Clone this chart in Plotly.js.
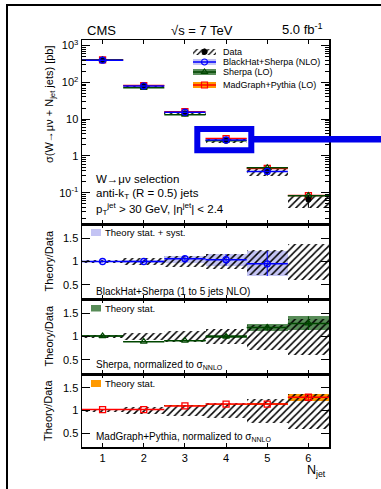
<!DOCTYPE html>
<html>
<head>
<meta charset="utf-8">
<script src="https://cdn.plot.ly/plotly-3.0.1.min.js"></script>
<style>
html,body{margin:0;padding:0;background:#fff;}
#wrap{position:relative;width:381px;height:489px;overflow:hidden;}
#frame{position:absolute;left:6px;top:4px;width:400px;height:500px;border-left:2px solid #000;border-top:2px solid #000;pointer-events:none;}
</style>
</head>
<body>
<div id="wrap"><div id="chart" style="width:381px;height:489px;"></div><div id="frame"></div></div>
<script>
// ---------- data ----------
const nJet = [1, 2, 3, 4, 5, 6];
const xTickLabels = ['1', '2', '3', '4', '5', '6'];
const dataXsec = [400, 80, 14.5, 2.6, 0.40, 0.065];          // pb
const dataErrUp = [0.035, 0.08, 0.12, 0.17, 0.25, 0.37];     // relative
const dataErrDn = [0.035, 0.08, 0.12, 0.16, 0.28, 0.40];     // relative
// Theory / Data
const bhRatio = [1.00, 1.00, 1.06, 1.04, 0.95, null];
const bhLo    = [0.98, 0.97, 0.96, 0.91, 0.69, null];
const bhHi    = [1.02, 1.03, 1.12, 1.16, 1.22, null];
const shRatio = [1.01, 0.89, 0.91, 1.00, 1.19, 1.28];
const shLo    = [0.99, 0.88, 0.90, 0.96, 1.12, 1.14];
const shHi    = [1.03, 0.90, 0.92, 1.03, 1.26, 1.43];
const mgRatio = [1.02, 1.02, 1.10, 1.14, 1.14, 1.29];
const mgLo    = [1.01, 1.01, 1.09, 1.13, 1.12, 1.20];
const mgHi    = [1.03, 1.03, 1.11, 1.15, 1.16, 1.36];
const mainTickVals = [0.1, 1, 10, 100, 1000];
const mainTickText = ['10<sup>-1</sup>', '1', '10', '10<sup>2</sup>', '10<sup>3</sup>'];
const ratioTickVals = [0.5, 1, 1.5];
const ratioTickText = ['0.5', '1', '1.5'];
const legendNames = ['Data', 'BlackHat+Sherpa (NLO)', 'Sherpa (LO)', 'MadGraph+Pythia (LO)'];

// ---------- styling ----------
const FONT = 'Liberation Sans, Arial, Helvetica, sans-serif';
const cBand = 'rgb(196,196,244)', cBlue = 'rgb(0,0,255)';
const cGreenBand = 'rgb(88,140,88)', cGreen = 'rgb(0,70,0)';
const cOrange = 'rgb(255,153,0)', cRed = 'rgb(255,0,0)';
const hatch = {shape: '/', fgcolor: 'black', bgcolor: 'rgba(0,0,0,0)', size: 5, solidity: 0.3, fillmode: 'replace'};

// pixel -> paper helpers (plot area 82..329 x, 40..447 y)
const L = 82, R = 329, T = 40, B = 447;
const px = v => (v - L) / (R - L);
const py = v => (B - v) / (B - T);

const mul = (a, b) => a.map((v, i) => (v == null || b[i] == null) ? null : v * b[i]);
const diff = (a, b) => a.map((v, i) => (v == null || b[i] == null) ? null : v - b[i]);

const traces = [];
function band(xa, ya, lo, hi, color, pattern) {
  traces.push({type: 'bar', x: nJet, base: lo, y: diff(hi, lo), width: 1, xaxis: xa, yaxis: ya,
    marker: pattern ? {color: 'rgba(0,0,0,0)', pattern: pattern, line: {width: 0}} : {color: color, line: {width: 0}},
    hoverinfo: 'skip'});
}
function theoryLine(xa, ya, c, lo, hi, color, symbol, size, withErr) {
  const t = {type: 'scatter', mode: 'markers', x: nJet, y: c, xaxis: xa, yaxis: ya,
    marker: {symbol: symbol, size: size, color: color, line: {color: color, width: 1.3}},
    error_x: {type: 'constant', value: 0.5, width: 0, thickness: 1.5, color: color}};
  if (withErr) t.error_y = {type: 'data', array: diff(hi, c), arrayminus: diff(c, lo), width: 0, thickness: 1, color: color};
  traces.push(t);
}

// main panel
const dLo = dataXsec.map((v, i) => v * (1 - dataErrDn[i]));
const dHi = dataXsec.map((v, i) => v * (1 + dataErrUp[i]));
band('x', 'y', dLo, dHi, null, hatch);
theoryLine('x', 'y', mul(dataXsec, mgRatio), null, null, cRed, 'square-open', 6, false);
theoryLine('x', 'y', mul(dataXsec, shRatio), null, null, cGreen, 'triangle-up-open', 6, false);
traces.push({type: 'scatter', mode: 'markers', x: nJet, y: dataXsec, xaxis: 'x', yaxis: 'y',
  marker: {symbol: 'circle', size: 6, color: 'black'},
  error_y: {type: 'data', array: diff(dHi, dataXsec), arrayminus: diff(dataXsec, dLo), width: 0, thickness: 1, color: 'black'}});
theoryLine('x', 'y', mul(dataXsec, bhRatio), null, null, cBlue, 'circle-open', 6, false);

// ratio panels
const rLo = dataErrDn.map(v => 1 - v), rHi = dataErrUp.map(v => 1 + v);
band('x2', 'y2', bhLo, bhHi, cBand);
band('x2', 'y2', rLo, rHi, null, hatch);
theoryLine('x2', 'y2', bhRatio, bhLo, bhHi, cBlue, 'circle-open', 6, true);
band('x3', 'y3', shLo, shHi, cGreenBand);
band('x3', 'y3', rLo, rHi, null, hatch);
theoryLine('x3', 'y3', shRatio, shLo, shHi, cGreen, 'triangle-up-open', 6, true);
band('x4', 'y4', mgLo, mgHi, cOrange);
band('x4', 'y4', rLo, rHi, null, hatch);
theoryLine('x4', 'y4', mgRatio, mgLo, mgHi, cRed, 'square-open', 6, true);

// legend symbols (overlay axes in pixel units)
const legY = [51.7, 62, 72, 85];
const legX = 204.5;
const legBandCols = [null, cBand, cGreenBand, cOrange];
const legLineCols = ['black', cBlue, cGreen, cRed];
const legSyms = ['circle', 'circle-open', 'triangle-up-open', 'square-open'];
legY.forEach((y, i) => {
  traces.push({type: 'bar', x: [legX], base: [y - 3], y: [6], width: 23, xaxis: 'x5', yaxis: 'y5',
    marker: i === 0 ? {color: 'rgba(0,0,0,0)', pattern: Object.assign({}, hatch, {size: 4}), line: {width: 0}} : {color: legBandCols[i], line: {width: 0}},
    hoverinfo: 'skip'});
  traces.push({type: 'scatter', mode: 'markers', x: [legX], y: [y], xaxis: 'x5', yaxis: 'y5',
    marker: {symbol: legSyms[i], size: i === 0 ? 5 : 6, color: legLineCols[i], line: {color: legLineCols[i], width: 1.2}},
    error_x: {type: 'constant', value: i === 0 ? 0 : 11.5, width: 0, thickness: 1.5, color: legLineCols[i]},
    error_y: {type: 'constant', value: i === 0 ? 3 : 0, width: 0, thickness: 1, color: legLineCols[i]}});
});

const xCommon = {range: [0.5, 6.5], showline: true, linecolor: 'black', linewidth: 1.5, mirror: 'ticks',
  ticks: 'inside', tickvals: nJet, ticktext: xTickLabels, ticklen: 4, tickwidth: 1, tickcolor: 'black',
  showgrid: false, zeroline: false, showticklabels: false, fixedrange: true};
const minorLog = [];
for (let d = -2; d <= 3; d++) for (let m = 2; m <= 9; m++) minorLog.push(m * Math.pow(10, d));
const yMain = {domain: [py(224), 1], type: 'log', range: [-1.85, 3.15], showline: true, linecolor: 'black', linewidth: 1.5,
  mirror: 'ticks', ticks: 'inside', tickvals: mainTickVals, ticktext: mainTickText, ticklen: 8, tickwidth: 1, tickcolor: 'black',
  minor: {tickvals: minorLog, ticks: 'inside', ticklen: 4, tickwidth: 1, tickcolor: 'black', showgrid: false},
  showgrid: false, zeroline: false, tickfont: {size: 11}, anchor: 'x'};
const yRatio = (d0, d1, anchor) => ({domain: [d0, d1], range: [0.2, 1.8], showline: true, linecolor: 'black', linewidth: 1.5,
  mirror: 'ticks', ticks: 'inside', tickvals: ratioTickVals, ticktext: ratioTickText, ticklen: 8, tickwidth: 1, tickcolor: 'black',
  showgrid: false, zeroline: false, tickfont: {size: 11}, anchor: anchor});

const ann = (x, y, text, opts) => Object.assign({xref: 'paper', yref: 'paper', x: px(x), y: py(y), text: text,
  showarrow: false, xanchor: 'left', yanchor: 'middle', font: {size: 11, family: FONT, color: 'black'}}, opts || {});

const annotations = [
  ann(85, 30.5, 'CMS', {font: {size: 13, family: FONT}}),
  ann(202, 30.5, '√s = 7 TeV', {xanchor: 'center', font: {size: 13, family: FONT}}),
  ann(325, 29.5, '5.0 fb<sup>-1</sup>', {xanchor: 'right', font: {size: 13, family: FONT}}),
  ann(50, 104, 'σ(W→μν + N<sub>jet</sub> jets) [pb]', {xanchor: 'center', textangle: -90}),
  ann(48, 261.5, 'Theory/Data', {xanchor: 'center', textangle: -90}),
  ann(48, 336.5, 'Theory/Data', {xanchor: 'center', textangle: -90}),
  ann(48, 411, 'Theory/Data', {xanchor: 'center', textangle: -90}),
  ann(94, 179, 'W→μν selection', {font: {size: 11.5, family: FONT}}),
  ann(94, 194, 'anti-k<sub>T</sub> (R = 0.5) jets', {font: {size: 11.5, family: FONT}}),
  ann(94, 209, 'p<sub>T</sub><sup>jet</sup> > 30 GeV, |η<sup>jet</sup>| < 2.4', {font: {size: 11.5, family: FONT}}),
  ann(103, 232.5, 'Theory stat. + syst.', {font: {size: 9.5, family: FONT}}),
  ann(94, 291.5, 'BlackHat+Sherpa (1 to 5 jets NLO)', {font: {size: 10, family: FONT}}),
  ann(103, 308, 'Theory stat.', {font: {size: 9.5, family: FONT}}),
  ann(94, 365, 'Sherpa, normalized to σ<sub>NNLO</sub>', {font: {size: 10, family: FONT}}),
  ann(103, 383.5, 'Theory stat.', {font: {size: 9.5, family: FONT}}),
  ann(94, 437, 'MadGraph+Pythia, normalized to σ<sub>NNLO</sub>', {font: {size: 10, family: FONT}}),
  ann(328, 469, 'N<sub>jet</sub>', {xanchor: 'right', yanchor: 'top', y: py(460.5), font: {size: 12.5, family: FONT}})
];
legendNames.forEach((n, i) => annotations.push(ann(221, legY[i], n, {font: {size: 9, family: FONT}})));

const rectPx = (x0, y0, x1, y1, color) => ({type: 'rect', xref: 'paper', yref: 'paper',
  x0: px(x0), x1: px(x1), y0: py(y1), y1: py(y0), fillcolor: color, line: {width: 0}});
const shapes = [
  rectPx(91, 229, 101, 236, cBand),
  rectPx(91, 305, 101, 311.5, cGreenBand),
  rectPx(91, 380, 101, 387, cOrange),
  {type: 'rect', xref: 'paper', yref: 'paper', x0: px(197.3), x1: px(251.3), y0: py(150.3), y1: py(129),
   line: {color: 'rgb(0,0,235)', width: 6}, fillcolor: 'rgba(0,0,0,0)'},
  {type: 'line', xref: 'paper', yref: 'paper', x0: px(254), x1: px(385), y0: py(139.3), y1: py(139.3),
   line: {color: 'rgb(0,0,235)', width: 6.5}}
];

const layout = {
  width: 381, height: 489, margin: {l: L, r: 381 - R, t: T, b: 489 - B, pad: 0},
  paper_bgcolor: 'rgba(0,0,0,0)', plot_bgcolor: 'rgba(0,0,0,0)', showlegend: false,
  barmode: 'overlay', bargap: 0,
  font: {family: FONT, size: 11, color: 'black'},
  xaxis: Object.assign({}, xCommon, {domain: [0, 1], anchor: 'y'}),
  xaxis2: Object.assign({}, xCommon, {domain: [0, 1], anchor: 'y2'}),
  xaxis3: Object.assign({}, xCommon, {domain: [0, 1], anchor: 'y3'}),
  xaxis4: Object.assign({}, xCommon, {domain: [0, 1], anchor: 'y4', showticklabels: true, tickfont: {size: 11}}),
  yaxis: yMain,
  yaxis2: yRatio(py(299), py(224), 'x2'),
  yaxis3: yRatio(py(374), py(299), 'x3'),
  yaxis4: yRatio(0, py(374), 'x4'),
  xaxis5: {overlaying: 'x', anchor: 'y5', range: [L, R], visible: false, fixedrange: true},
  yaxis5: {overlaying: 'y', anchor: 'x5', range: [224, 40], visible: false, fixedrange: true},
  annotations: annotations,
  shapes: shapes
};

Plotly.newPlot('chart', traces, layout, {staticPlot: true, displayModeBar: false});
</script>
</body>
</html>
